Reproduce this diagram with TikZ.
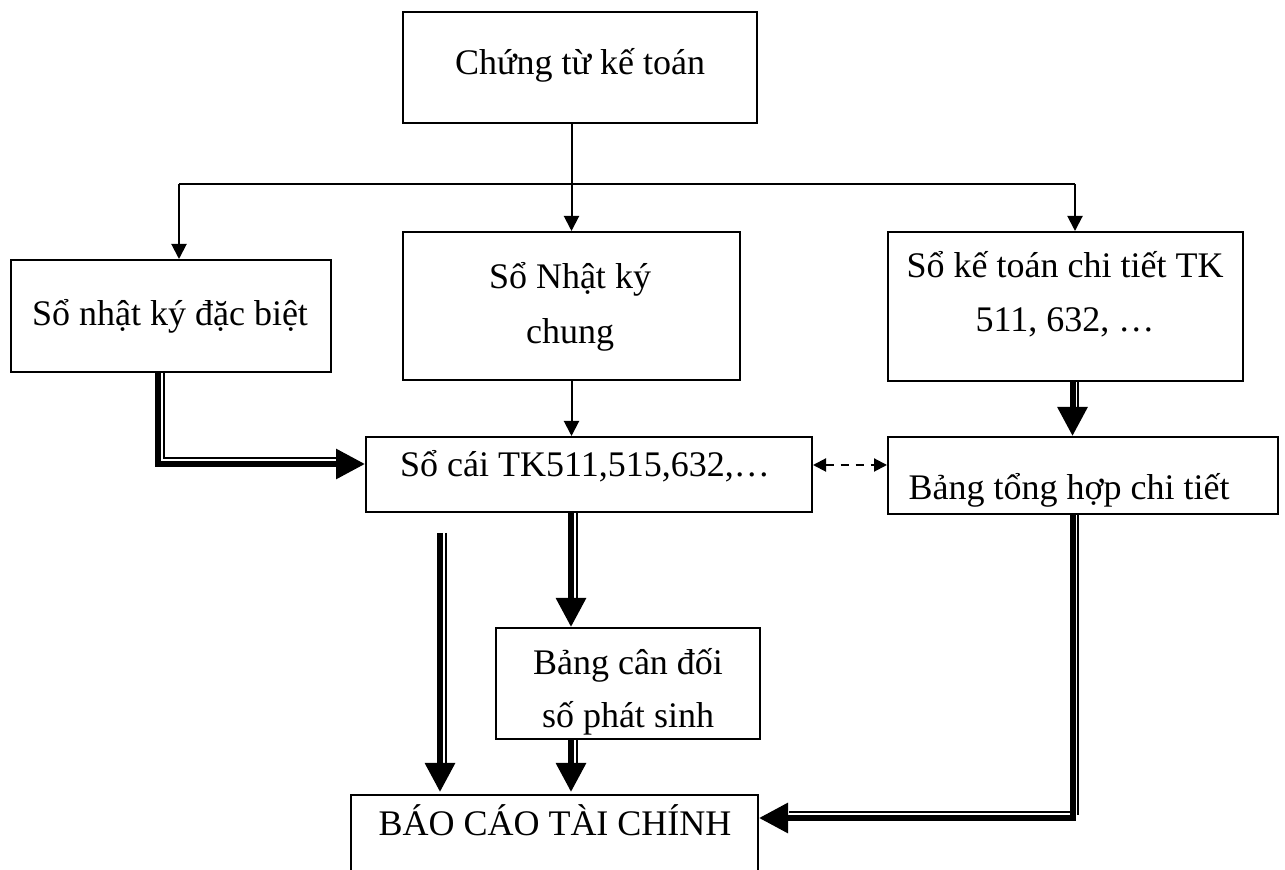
\documentclass[tikz,border=0pt]{standalone}
\usepackage{fontspec}
\setmainfont{Liberation Serif}
\usetikzlibrary{arrows.meta,calc,fit}
\begin{document}
\begin{tikzpicture}[x=0.5pt,y=-0.5pt,
  box/.style={draw, line width=1pt, inner sep=0pt},
  txt/.style={font=\fontsize{18}{22.5}\selectfont, anchor=base, inner sep=0pt},
  arr/.style={line width=1pt, -{Triangle[length=7.5pt,width=7.5pt]}},
  darr/.style={line width=1pt, dash pattern=on 4pt off 3.5pt, {Triangle[length=6.5pt,width=6.5pt]}-{Triangle[length=6.5pt,width=6.5pt]}},
  thk/.style={line width=3pt, -{Triangle[length=14.5pt,width=14.5pt]}},
  thn/.style={line width=1pt}]
\useasboundingbox (0,0) rectangle (1285,870);
\clip (0,0) rectangle (1285,870);
% boxes
\node[box, fit={(403,12) (757,123)}] (top) {};
\node[box, fit={(11,260) (331,372)}] (left) {};
\node[box, fit={(403,232) (740,380)}] (mid) {};
\node[box, fit={(888,232) (1243,381)}] (right) {};
\node[box, fit={(366,437) (812,512)}] (socai) {};
\node[box, fit={(888,437) (1278,514)}] (bth) {};
\node[box, fit={(496,628) (760,739)}] (bcd) {};
\node[box, fit={(351,795) (758,880)}] (bctc) {};
% texts
\node[txt] (t1) at (580,75) {Chứng từ kế toán};
\node[txt] (t2) at (170,326) {Sổ nhật ký đặc biệt};
\node[txt] (t3a) at (570,289) {Sổ Nhật ký};
\node[txt] (t3b) at (570,344) {chung};
\node[txt] (t4a) at (1065,278) {Sổ kế toán chi tiết TK};
\node[txt] (t4b) at (1065,332) {511, 632, …};
\node[txt] (t5) at (585,477) {Sổ cái TK511,515,632,…};
\node[txt] (t6) at (1069,500) {Bảng tổng hợp chi tiết};
\node[txt] (t7a) at (628,675) {Bảng cân đối};
\node[txt] (t7b) at (628,728) {số phát sinh};
\node[txt] (t8) at (555,835) {BÁO CÁO TÀI CHÍNH};
% single connectors
\coordinate (hl) at (179,184);
\coordinate (hr) at (1075,184);
\draw[thn] (hl) -- (hr);
\draw[arr] (top.south -| mid.north) -- (mid.north);
\draw[arr] (hl) -- (hl |- left.north);
\draw[arr] (hr) -- (hr |- right.north);
\draw[arr] (mid.south) -- (mid.south |- socai.north);
% dashed two-way
\coordinate (dy) at (0,465);
\draw[darr] (socai.east |- dy) -- (bth.west |- dy);
% double arrows
\coordinate (ax) at (571,0);
% left -> socai
\draw[thk] ($(left.south)+(-13,0)$) |- ($(socai.west)+(0,-10.5)$);
\draw[thn] ($(left.south)+(-7.5,0)$) |- ($(socai.west)+(-25,-16)$);
% right -> bth
\draw[thk] ($(right.south)+(7,0)$) -- ($(bth.north -| right.south)+(7,0)$);
\draw[thn] ($(right.south)+(12.5,0)$) -- ($(bth.north -| right.south)+(12.5,-20)$);
% socai -> bcd
\draw[thk] (socai.south -| ax) -- (bcd.north -| ax);
\draw[thn] ($(socai.south -| ax)+(5.5,0)$) -- ($(bcd.north -| ax)+(5.5,-20)$);
% free arrow -> bctc
\coordinate (free) at (440,533);
\draw[thk, shorten >=1pt] (free) -- (free |- bctc.north);
\draw[thn] ($(free)+(5.5,0)$) -- ($(free |- bctc.north)+(5.5,-25)$);
% bcd -> bctc
\draw[thk, shorten >=1pt] (bcd.south -| ax) -- (bctc.north -| ax);
\draw[thn] ($(bcd.south -| ax)+(5.5,0)$) -- ($(bctc.north -| ax)+(5.5,-25)$);
% bth -> bctc
\coordinate (by) at (0,818);
\draw[thk] ($(bth.south -| right.south)+(7,0)$) |- (bctc.east |- by);
\draw[thn] ($(bth.south -| right.south)+(12.5,0)$) -- ($(right.south |- by)+(12.5,-3)$);
\draw[thn] ($(right.south |- by)+(5,-6)$) -- ($(bctc.east |- by)+(30,-6)$);
\end{tikzpicture}
\end{document}
